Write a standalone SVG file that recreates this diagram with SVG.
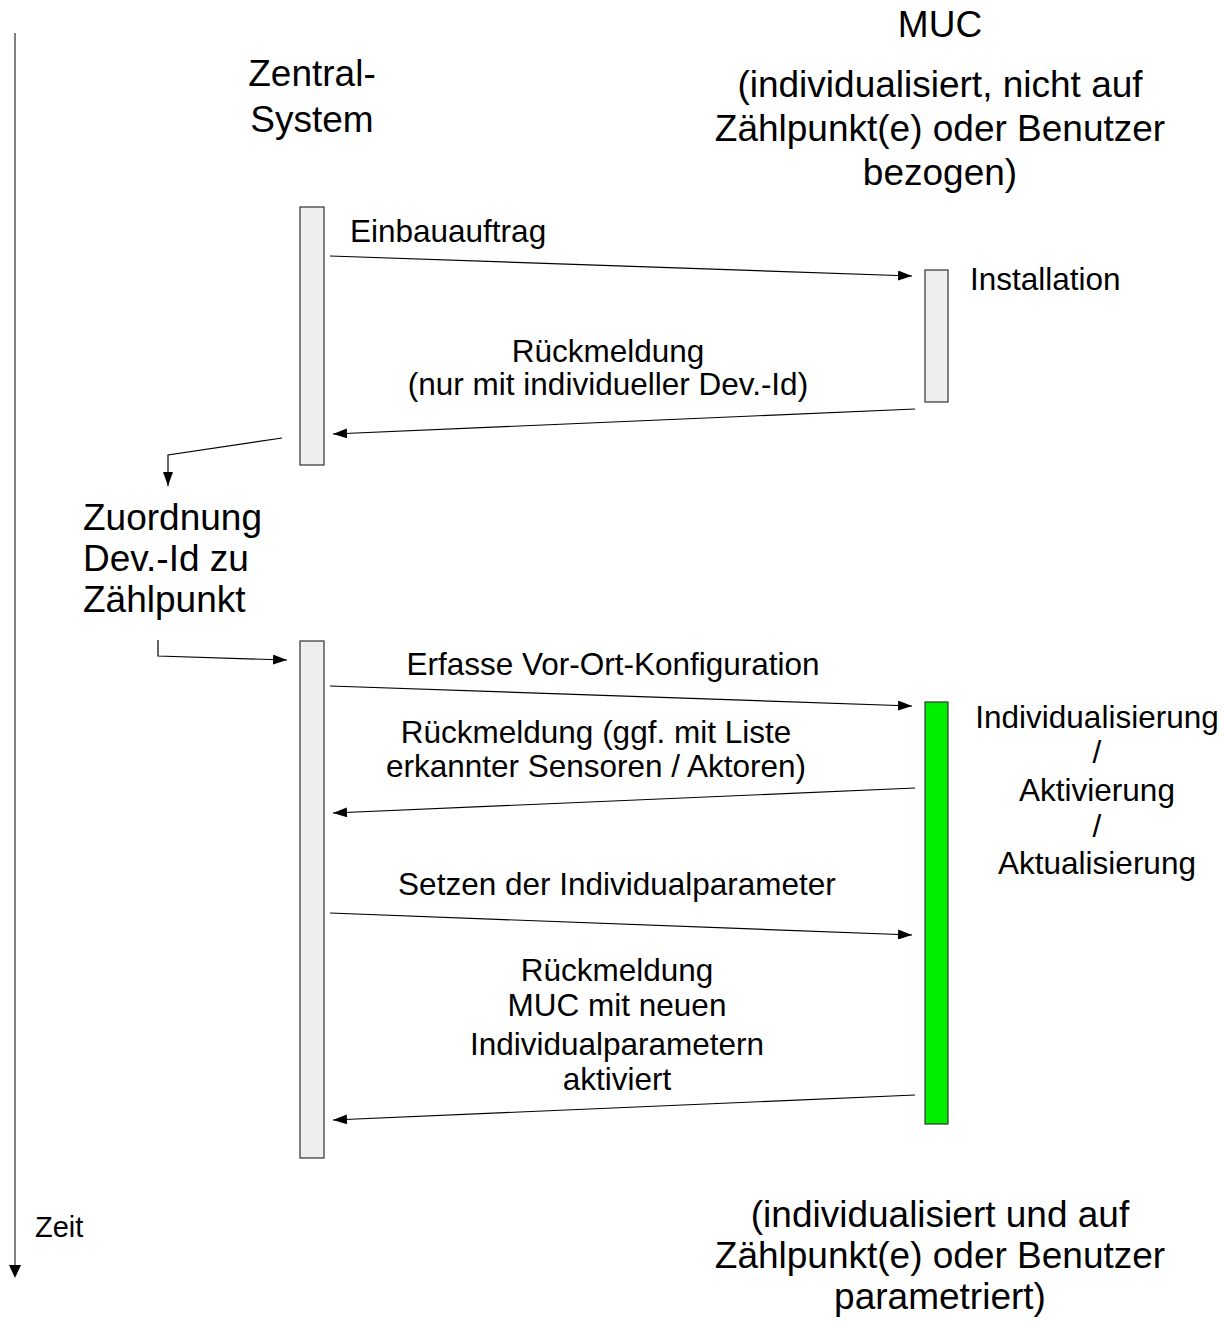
<svg xmlns="http://www.w3.org/2000/svg" width="1224" height="1321" viewBox="0 0 1224 1321">
  <style>
    text { font-family: "Liberation Sans", Arial, sans-serif; fill: #000; }
    .big { font-size: 37px; }
    .msg { font-size: 31.5px; }
    .mid { text-anchor: middle; }
    .bar { fill: #eeeeee; stroke: #333333; stroke-width: 1.2; }
    .active { fill: #00ee00; stroke: #333333; stroke-width: 1.2; }
    .conn { fill: none; stroke: #000; stroke-width: 1.2; }
  </style>
  <defs>
    <marker id="arrow" viewBox="0 0 14 10" refX="14" refY="5" markerWidth="14" markerHeight="10" markerUnits="userSpaceOnUse" orient="auto">
      <path d="M0,0 L14,5 L0,10 Z" fill="#000"/>
    </marker>
  </defs>

  <!-- time axis -->
  <g id="time-axis">
    <line x1="15" y1="33" x2="15" y2="1266" stroke="#808080" stroke-width="2"/>
    <path d="M9,1265 L21,1265 L15,1278 Z" fill="#000"/>
    <text x="35" y="1237" font-size="29">Zeit</text>
  </g>

  <!-- headers -->
  <g id="zentral-header">
    <text class="big mid" x="312" y="86">Zentral-</text>
    <text class="big mid" x="312" y="132">System</text>
  </g>
  <g id="muc-header">
    <text class="big mid" x="940" y="37">MUC</text>
    <text class="big mid" x="940" y="97">(individualisiert, nicht auf</text>
    <text class="big mid" x="940" y="141">Zählpunkt(e) oder Benutzer</text>
    <text class="big mid" x="940" y="185">bezogen)</text>
  </g>
  <g id="muc-footer">
    <text class="big mid" x="940" y="1227">(individualisiert und auf</text>
    <text class="big mid" x="940" y="1268">Zählpunkt(e) oder Benutzer</text>
    <text class="big mid" x="940" y="1309">parametriert)</text>
  </g>

  <!-- activation bars -->
  <g id="zentral-1"><rect class="bar" x="300" y="207" width="24" height="258"/></g>
  <g id="muc-installation">
    <rect class="bar" x="925" y="270" width="23" height="132"/>
    <text class="msg" x="970" y="290">Installation</text>
  </g>
  <g id="zuordnung">
    <text class="big" x="83" y="530">Zuordnung</text>
    <text class="big" x="83" y="571">Dev.-Id zu</text>
    <text class="big" x="83" y="612">Zählpunkt</text>
  </g>
  <g id="zentral-2"><rect class="bar" x="300" y="641" width="24" height="517"/></g>
  <g id="muc-individualisierung">
    <rect class="active" x="925" y="702" width="23" height="422"/>
    <text class="msg mid" x="1097" y="728">Individualisierung</text>
    <text class="msg mid" x="1097" y="763">/</text>
    <text class="msg mid" x="1097" y="801">Aktivierung</text>
    <text class="msg mid" x="1097" y="837">/</text>
    <text class="msg mid" x="1097" y="874">Aktualisierung</text>
  </g>

  <!-- messages -->
  <g id="connectors">
    <line class="conn" x1="330" y1="256" x2="912" y2="276" marker-end="url(#arrow)"/>
    <line class="conn" x1="915" y1="409" x2="333" y2="434" marker-end="url(#arrow)"/>
    <polyline class="conn" points="282,438 168,455 168,486" marker-end="url(#arrow)"/>
    <polyline class="conn" points="158,640 158,656 287,660" marker-end="url(#arrow)"/>
    <line class="conn" x1="330" y1="686" x2="912" y2="706" marker-end="url(#arrow)"/>
    <line class="conn" x1="915" y1="788" x2="333" y2="813" marker-end="url(#arrow)"/>
    <line class="conn" x1="330" y1="913" x2="912" y2="935" marker-end="url(#arrow)"/>
    <line class="conn" x1="915" y1="1095" x2="333" y2="1120" marker-end="url(#arrow)"/>
  </g>

  <g id="labels">
    <text class="msg" x="350" y="242">Einbauauftrag</text>
    <text class="msg mid" x="608" y="362">Rückmeldung</text>
    <text class="msg mid" x="608" y="395">(nur mit individueller Dev.-Id)</text>
    <text class="msg mid" x="613" y="675">Erfasse Vor-Ort-Konfiguration</text>
    <text class="msg mid" x="596" y="743">Rückmeldung (ggf. mit Liste</text>
    <text class="msg mid" x="596" y="777">erkannter Sensoren / Aktoren)</text>
    <text class="msg mid" x="617" y="895">Setzen der Individualparameter</text>
    <text class="msg mid" x="617" y="981">Rückmeldung</text>
    <text class="msg mid" x="617" y="1016">MUC mit neuen</text>
    <text class="msg mid" x="617" y="1055">Individualparametern</text>
    <text class="msg mid" x="617" y="1090">aktiviert</text>
  </g>
</svg>
